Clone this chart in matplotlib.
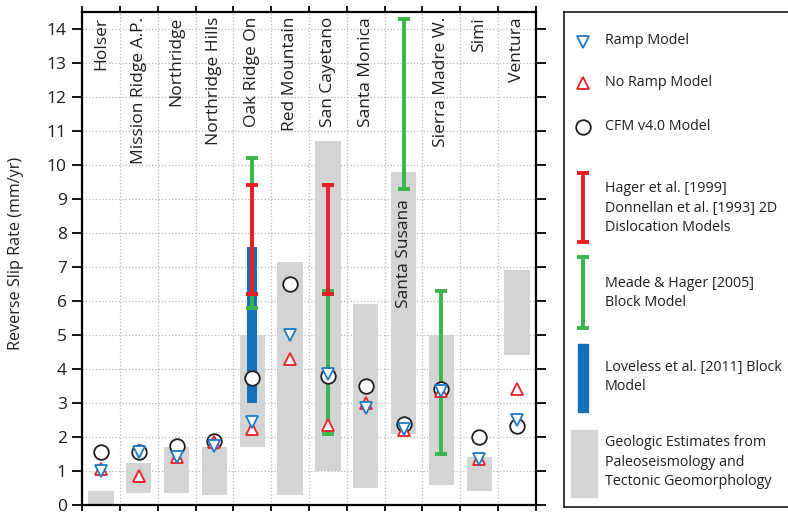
import numpy as np
import matplotlib
matplotlib.use("Agg")
import matplotlib.pyplot as plt
from matplotlib.patches import Rectangle

plt.rcParams["font.family"] = ["Open Sans", "DejaVu Sans"]

faults = ["Holser", "Mission Ridge A.P.", "Northridge", "Northridge Hills",
          "Oak Ridge On", "Red Mountain", "San Cayetano", "Santa Monica",
          "Santa Susana", "Sierra Madre W.", "Simi", "Ventura"]

# geologic estimates (gray boxes): low / high
geo_lo = [0.0, 0.35, 0.35, 0.3, 1.7, 0.3, 1.0, 0.5, 2.1, 0.6, 0.4, 4.4]
geo_hi = [0.4, 1.25, 1.7, 1.7, 5.0, 7.15, 10.7, 5.9, 9.8, 5.0, 1.4, 6.9]

ramp = [1.0, 1.55, 1.4, 1.75, 2.45, 5.0, 3.85, 2.85, 2.25, 3.35, 1.35, 2.5]
no_ramp = [1.05, 0.85, 1.4, 1.85, 2.25, 4.3, 2.35, 3.0, 2.2, 3.35, 1.35, 3.4]
cfm = [1.57, 1.57, 1.75, 1.87, 3.73, 6.5, 3.78, 3.5, 2.37, 3.42, 2.0, 2.33]

# Hager et al. / Donnellan et al. 2D dislocation models
hager_idx = [4, 6]
hager_lo = [6.2, 6.2]
hager_hi = [9.4, 9.4]

# Meade & Hager block model
meade_idx = [4, 6, 8, 9]
meade_lo = [5.8, 2.1, 9.3, 1.5]
meade_hi = [10.2, 6.3, 14.3, 6.3]

# Loveless et al. block model
lov_idx = [4]
lov_lo = [3.0]
lov_hi = [7.6]

RED = "#ed1c24"
GREEN = "#39b54a"
BLUE = "#1570b8"
TRI_BLUE = "#1c7ac4"
GRAY = "#d3d4d4"
INK = "#1e1e1e"

W, H = 788, 517
fig = plt.figure(figsize=(W / 100, H / 100), dpi=100)
ax = fig.add_axes([82 / W, 1 - 505 / H, (536 - 82) / W, (505 - 12) / H])

n = len(faults)
xc = np.arange(n) + 0.5

ax.bar(xc, np.array(geo_hi) - np.array(geo_lo), bottom=geo_lo, width=0.67,
       color=GRAY, zorder=2)
ax.bar(xc[lov_idx], np.array(lov_hi) - np.array(lov_lo), bottom=lov_lo,
       width=0.26, color=BLUE, zorder=3)

m_mid = (np.array(meade_hi) + np.array(meade_lo)) / 2
m_err = (np.array(meade_hi) - np.array(meade_lo)) / 2
ax.errorbar(xc[meade_idx], m_mid, yerr=m_err, fmt="none", ecolor=GREEN,
            elinewidth=2.8, capsize=4.5, capthick=2.8, zorder=4)
h_mid = (np.array(hager_hi) + np.array(hager_lo)) / 2
h_err = (np.array(hager_hi) - np.array(hager_lo)) / 2
ax.errorbar(xc[hager_idx], h_mid, yerr=h_err, fmt="none", ecolor=RED,
            elinewidth=2.8, capsize=4.5, capthick=2.8, zorder=5)

ax.plot(xc, cfm, "o", ms=10.5, mfc="white", mec=INK, mew=1.3, zorder=6)
ax.plot(xc, no_ramp, "^", ms=8.5, mfc="white", mec=RED, mew=1.3, zorder=7)
ax.plot(xc, ramp, "v", ms=8.5, mfc="white", mec=TRI_BLUE, mew=1.3, zorder=8)

for i, name in enumerate(faults):
    ytop = 9.0 if name == "Santa Susana" else 14.35
    ax.text(xc[i], ytop, name, rotation=90, ha="center", va="top",
            fontsize=12.5, color=INK, zorder=9)

ax.set_xlim(0, n)
ax.set_ylim(0, 14.5)
ax.set_xticks(np.arange(n + 1))
ax.set_xticklabels([])
ax.set_yticks(np.arange(0, 15))
ax.tick_params(axis="y", direction="out", length=7, width=1.3, labelsize=12.5,
               right=True, pad=4, labelcolor=INK)
ax.tick_params(axis="x", direction="out", length=4.5, width=1.3, top=True)
ax.grid(True, linestyle=":", color="#b8b8b8", linewidth=0.9)
ax.set_axisbelow(True)
for s in ax.spines.values():
    s.set_linewidth(1.6)
ax.set_ylabel("Reverse Slip Rate (mm/yr)", fontsize=11.6, color=INK)
ax.yaxis.label.set_verticalalignment("center")
ax.yaxis.set_label_coords((16 - 82) / 454, (505 - 253) / 493)

# legend panel, in figure pixel coordinates
lg = fig.add_axes([564 / W, 1 - 507 / H, (800 - 564) / W, (507 - 12) / H])
lg.set_xlim(564, 800)
lg.set_ylim(507, 12)
lg.set_xticks([])
lg.set_yticks([])
lg.spines["right"].set_visible(False)
for s in lg.spines.values():
    s.set_linewidth(1.1)

mx, tx = 583, 605
fs = 10.3
lg.plot(mx, 41.5, "v", ms=8.5, mfc="white", mec=TRI_BLUE, mew=1.3)
lg.text(tx, 40, "Ramp Model", va="center", fontsize=fs, color=INK)
lg.plot(mx, 82.5, "^", ms=8.5, mfc="white", mec=RED, mew=1.3)
lg.text(tx, 82, "No Ramp Model", va="center", fontsize=fs, color=INK)
lg.plot(mx, 126.5, "o", ms=10.5, mfc="white", mec=INK, mew=1.3)
lg.text(tx, 126, "CFM v4.0 Model", va="center", fontsize=fs, color=INK)

lg.errorbar([mx], [207.5], yerr=[34.8], fmt="none", ecolor=RED,
            elinewidth=2.8, capsize=4.5, capthick=2.8)
lg.text(tx, 208, "Hager et al. [1999]\nDonnellan et al. [1993] 2D\nDislocation Models",
        va="center", fontsize=fs, color=INK, linespacing=1.4)
lg.errorbar([mx], [292.4], yerr=[35.3], fmt="none", ecolor=GREEN,
            elinewidth=2.8, capsize=4.5, capthick=2.8)
lg.text(tx, 293, "Meade & Hager [2005]\nBlock Model",
        va="center", fontsize=fs, color=INK, linespacing=1.4)
lg.add_patch(Rectangle((mx - 5, 344), 10, 68, color=BLUE))
lg.text(tx, 377, "Loveless et al. [2011] Block\nModel",
        va="center", fontsize=fs, color=INK, linespacing=1.4)
lg.add_patch(Rectangle((571, 430), 26, 67, color=GRAY))
lg.text(tx, 462, "Geologic Estimates from\nPaleoseismology and\nTectonic Geomorphology",
        va="center", fontsize=fs, color=INK, linespacing=1.4)

fig.savefig("out.png", dpi=100)
